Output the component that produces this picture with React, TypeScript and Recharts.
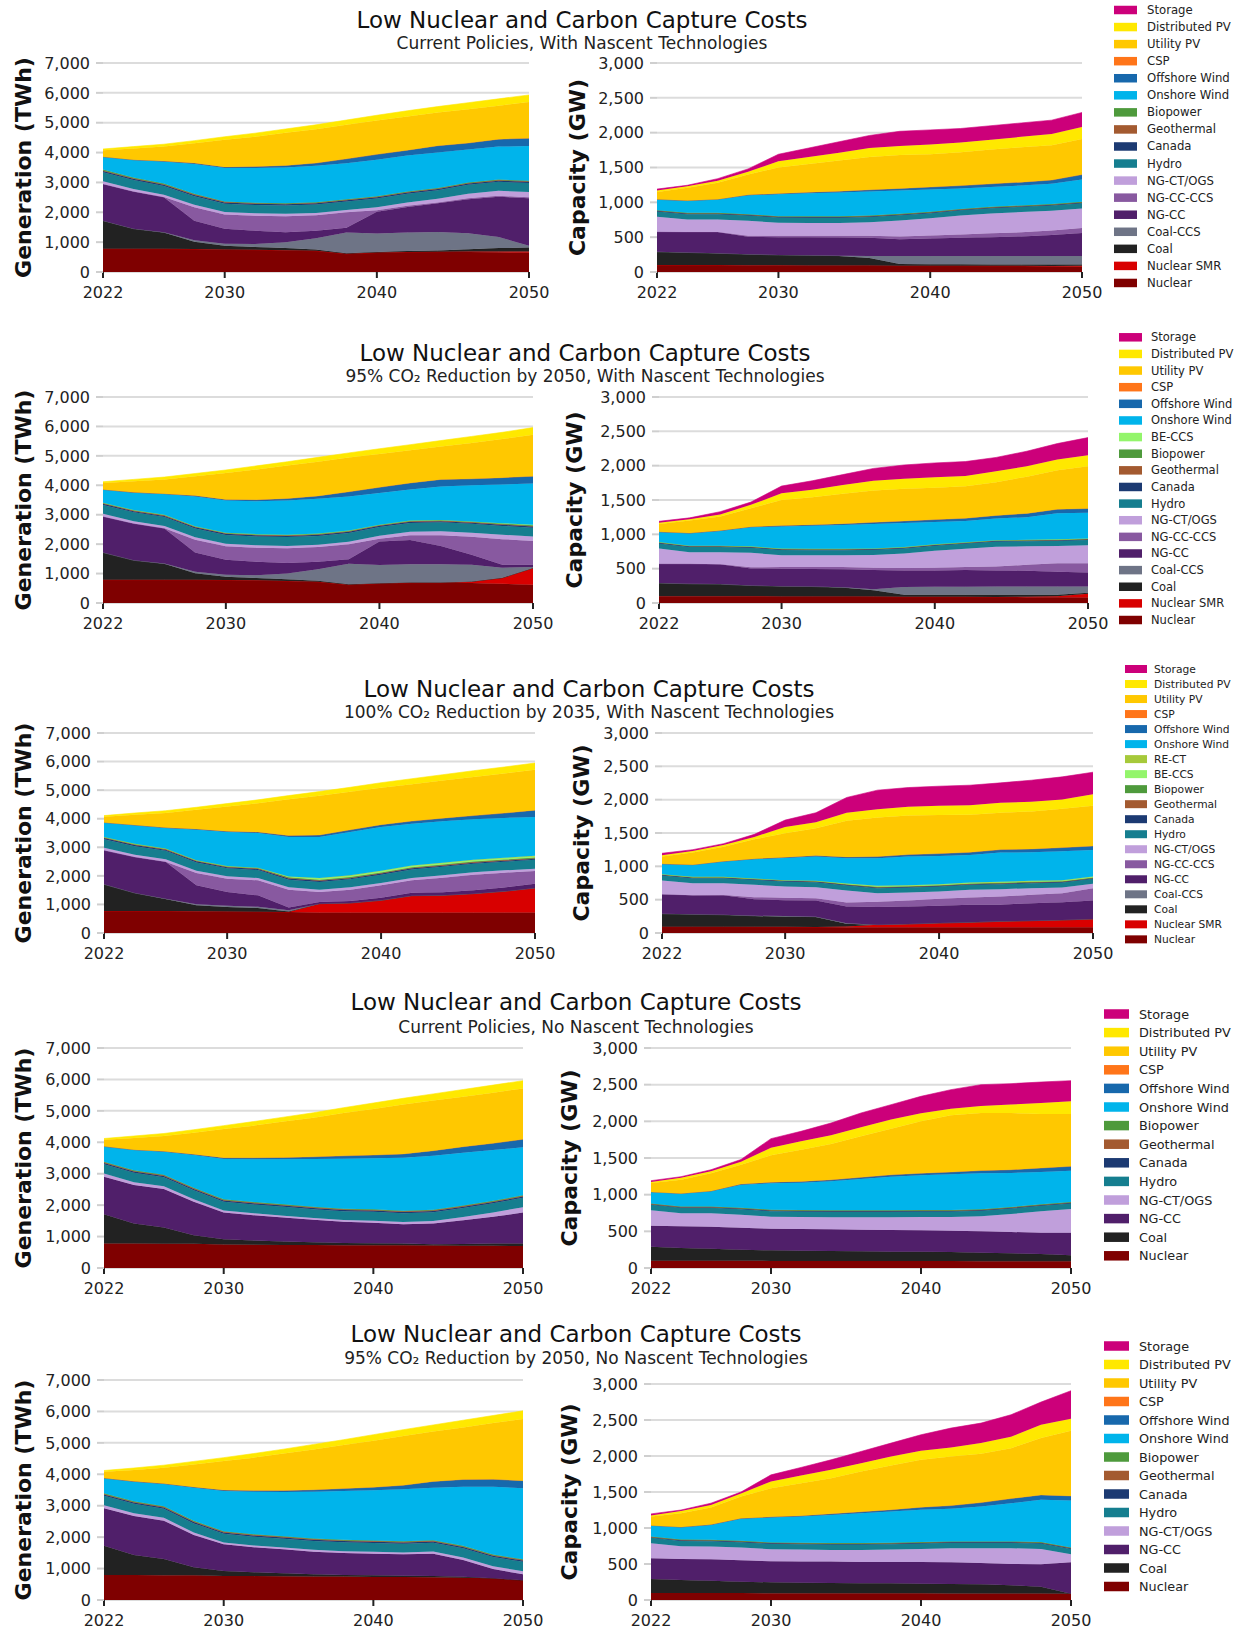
import React from 'react';
import { AreaChart, Area, XAxis, YAxis, CartesianGrid } from 'recharts';

const FONT = 'DejaVu Sans, Verdana, sans-serif';

const YEARS = [2022, 2024, 2026, 2028, 2030, 2032, 2034, 2036, 2038, 2040, 2042, 2044, 2046, 2048, 2050];
const X_TICKS = [2022, 2030, 2040, 2050];
const GEN_TICKS = [0, 1000, 2000, 3000, 4000, 5000, 6000, 7000];
const CAP_TICKS = [0, 500, 1000, 1500, 2000, 2500, 3000];

const TITLE = 'Low Nuclear and Carbon Capture Costs';
const SUBTITLES = [
  'Current Policies, With Nascent Technologies',
  '95% CO\u2082 Reduction by 2050, With Nascent Technologies',
  '100% CO\u2082 Reduction by 2035, With Nascent Technologies',
  'Current Policies, No Nascent Technologies',
  '95% CO\u2082 Reduction by 2050, No Nascent Technologies',
];

const COLORS: Record<string, string> = {
  'Storage': '#cc007a',
  'Distributed PV': '#ffe800',
  'Utility PV': '#ffc800',
  'CSP': '#ff7519',
  'Offshore Wind': '#1768ac',
  'Onshore Wind': '#00b4eb',
  'RE-CT': '#a6c93a',
  'BE-CCS': '#93f56b',
  'Biopower': '#4e9a3c',
  'Geothermal': '#a35a30',
  'Canada': '#1c3a72',
  'Hydro': '#157e8f',
  'NG-CT/OGS': '#c09fdb',
  'NG-CC-CCS': '#8859a0',
  'NG-CC': '#501f6a',
  'Coal-CCS': '#6e7486',
  'Coal': '#222222',
  'Nuclear SMR': '#d80000',
  'Nuclear': '#7f0000',
};

const STACK_ORDER = ['Nuclear', 'Nuclear SMR', 'Coal', 'Coal-CCS', 'NG-CC', 'NG-CC-CCS', 'NG-CT/OGS', 'Hydro', 'Canada',
  'Geothermal', 'Biopower', 'BE-CCS', 'RE-CT', 'Onshore Wind', 'Offshore Wind', 'CSP', 'Utility PV', 'Distributed PV', 'Storage'];

const LEGEND_1 = ['Storage', 'Distributed PV', 'Utility PV', 'CSP', 'Offshore Wind', 'Onshore Wind', 'Biopower', 'Geothermal',
  'Canada', 'Hydro', 'NG-CT/OGS', 'NG-CC-CCS', 'NG-CC', 'Coal-CCS', 'Coal', 'Nuclear SMR', 'Nuclear'];
const LEGEND_2 = ['Storage', 'Distributed PV', 'Utility PV', 'CSP', 'Offshore Wind', 'Onshore Wind', 'BE-CCS', 'Biopower', 'Geothermal',
  'Canada', 'Hydro', 'NG-CT/OGS', 'NG-CC-CCS', 'NG-CC', 'Coal-CCS', 'Coal', 'Nuclear SMR', 'Nuclear'];
const LEGEND_3 = ['Storage', 'Distributed PV', 'Utility PV', 'CSP', 'Offshore Wind', 'Onshore Wind', 'RE-CT', 'BE-CCS', 'Biopower', 'Geothermal',
  'Canada', 'Hydro', 'NG-CT/OGS', 'NG-CC-CCS', 'NG-CC', 'Coal-CCS', 'Coal', 'Nuclear SMR', 'Nuclear'];
const LEGEND_4 = ['Storage', 'Distributed PV', 'Utility PV', 'CSP', 'Offshore Wind', 'Onshore Wind', 'Biopower', 'Geothermal',
  'Canada', 'Hydro', 'NG-CT/OGS', 'NG-CC', 'Coal', 'Nuclear'];

const C15 = (v: number) => YEARS.map(() => v);

// ---------- Generation (TWh) ----------
const GEN_1: Record<string, number[]> = {
  'Nuclear': [780, 780, 780, 770, 755, 745, 730, 710, 610, 650, 670, 680, 670, 660, 650],
  'Nuclear SMR': [0, 0, 0, 0, 0, 0, 0, 0, 0, 0, 0, 0, 20, 30, 40],
  'Coal': [940, 670, 540, 240, 125, 90, 70, 40, 20, 20, 30, 40, 70, 110, 130],
  'Coal-CCS': [0, 0, 10, 50, 70, 100, 200, 380, 690, 620, 620, 620, 540, 370, 60],
  'NG-CC': [1230, 1250, 1170, 660, 500, 450, 330, 250, 160, 730, 860, 960, 1140, 1350, 1590],
  'NG-CC-CCS': [0, 0, 10, 450, 480, 500, 540, 520, 520, 50, 40, 30, 30, 30, 30],
  'NG-CT/OGS': [90, 80, 80, 80, 80, 80, 80, 80, 80, 100, 110, 120, 150, 170, 180],
  'Hydro': [300, 300, 290, 290, 280, 280, 280, 280, 280, 290, 290, 290, 300, 300, 300],
  'Canada': [40, 40, 40, 40, 40, 40, 40, 40, 40, 40, 40, 40, 40, 40, 40],
  'Geothermal': [20, 20, 20, 20, 20, 20, 20, 20, 20, 20, 20, 20, 20, 20, 20],
  'Biopower': [30, 25, 20, 20, 15, 15, 15, 15, 15, 15, 15, 15, 15, 15, 15],
  'Onshore Wind': [420, 585, 740, 1000, 1115, 1160, 1195, 1225, 1205, 1225, 1205, 1185, 1105, 1105, 1165],
  'Offshore Wind': [10, 10, 15, 30, 40, 50, 70, 90, 150, 180, 180, 230, 220, 250, 260],
  'CSP': [0, 0, 0, 0, 0, 0, 0, 0, 0, 0, 0, 0, 0, 0, 0],
  'Utility PV': [220, 380, 485, 660, 910, 1000, 1090, 1130, 1140, 1130, 1130, 1110, 1130, 1120, 1210],
  'Distributed PV': [40, 60, 80, 90, 100, 120, 130, 150, 160, 180, 190, 200, 220, 230, 240],
};

const GEN_2: Record<string, number[]> = {
  'Nuclear': [790, 790, 790, 790, 780, 770, 750, 720, 620, 660, 690, 690, 680, 656, 620],
  'Nuclear SMR': [0, 0, 0, 0, 0, 0, 0, 0, 0, 0, 0, 0, 40, 190, 560],
  'Coal': [925, 660, 540, 220, 110, 80, 60, 40, 20, 10, 10, 10, 10, 10, 10],
  'Coal-CCS': [0, 0, 10, 50, 70, 90, 190, 390, 690, 620, 620, 620, 570, 344, 30],
  'NG-CC': [1225, 1250, 1190, 660, 510, 460, 360, 250, 160, 800, 825, 620, 340, 100, 80],
  'NG-CC-CCS': [0, 0, 10, 430, 460, 480, 500, 500, 510, 92, 155, 360, 610, 870, 810],
  'NG-CT/OGS': [90, 80, 80, 80, 80, 80, 80, 80, 80, 100, 120, 140, 140, 150, 150],
  'Hydro': [300, 300, 300, 300, 300, 300, 300, 300, 300, 300, 300, 300, 300, 300, 300],
  'Canada': [40, 40, 40, 40, 40, 40, 40, 40, 40, 40, 40, 40, 40, 40, 40],
  'Geothermal': [20, 20, 20, 20, 20, 20, 20, 20, 20, 20, 20, 20, 20, 20, 20],
  'Biopower': [20, 20, 20, 20, 20, 20, 20, 20, 20, 20, 20, 20, 20, 20, 20],
  'BE-CCS': [0, 0, 0, 0, 0, 0, 0, 0, 0, 0, 0, 0, 0, 10, 20],
  'Onshore Wind': [440, 590, 700, 1010, 1090, 1120, 1160, 1180, 1160, 1080, 1060, 1140, 1230, 1320, 1400],
  'Offshore Wind': [10, 10, 15, 30, 40, 50, 70, 100, 160, 190, 220, 240, 220, 230, 250],
  'CSP': [0, 0, 0, 0, 0, 0, 0, 0, 0, 0, 0, 0, 0, 0, 0],
  'Utility PV': [220, 380, 485, 660, 900, 1030, 1120, 1160, 1160, 1130, 1110, 1120, 1220, 1310, 1410],
  'Distributed PV': [40, 60, 80, 90, 100, 120, 130, 150, 160, 180, 190, 200, 220, 230, 240],
};

const GEN_3: Record<string, number[]> = {
  'Nuclear': [770, 770, 770, 765, 750, 745, 735, 720, 715, 715, 715, 715, 715, 715, 715],
  'Nuclear SMR': [0, 0, 0, 0, 0, 0, 0, 307, 335, 428, 592, 603, 662, 744, 860],
  'Coal': [933, 630, 420, 203, 160, 130, 20, 0, 0, 0, 0, 0, 0, 0, 0],
  'Coal-CCS': [0, 0, 10, 40, 40, 40, 40, 0, 0, 0, 0, 0, 0, 0, 0],
  'NG-CC': [1190, 1260, 1297, 661, 485, 403, 100, 60, 70, 90, 100, 110, 120, 130, 150],
  'NG-CC-CCS': [0, 0, 0, 430, 467, 526, 622, 348, 397, 436, 437, 509, 545, 523, 445],
  'NG-CT/OGS': [90, 80, 80, 80, 80, 80, 80, 80, 80, 80, 80, 80, 80, 80, 80],
  'Hydro': [300, 300, 300, 290, 280, 280, 270, 270, 280, 290, 300, 300, 300, 300, 310],
  'Canada': [40, 40, 40, 40, 40, 40, 40, 40, 40, 40, 40, 40, 40, 40, 40],
  'Geothermal': [20, 20, 20, 20, 20, 20, 20, 20, 20, 20, 20, 20, 20, 20, 20],
  'Biopower': [20, 20, 20, 20, 20, 20, 20, 20, 20, 20, 20, 20, 20, 20, 20],
  'BE-CCS': [0, 0, 0, 0, 0, 0, 30, 50, 50, 50, 50, 50, 50, 50, 50],
  'RE-CT': [0, 0, 0, 0, 0, 0, 0, 10, 10, 10, 10, 10, 10, 10, 10],
  'Onshore Wind': [498, 650, 718, 1068, 1193, 1216, 1383, 1435, 1518, 1532, 1463, 1452, 1417, 1394, 1360],
  'Offshore Wind': [8, 10, 15, 25, 30, 35, 50, 70, 75, 80, 90, 110, 130, 170, 240],
  'CSP': [0, 0, 0, 0, 0, 0, 0, 0, 0, 0, 0, 0, 0, 0, 0],
  'Utility PV': [200, 360, 510, 668, 865, 1005, 1270, 1370, 1330, 1289, 1293, 1321, 1351, 1384, 1410],
  'Distributed PV': [40, 60, 80, 90, 100, 120, 130, 150, 160, 180, 190, 200, 220, 230, 240],
};

const GEN_4: Record<string, number[]> = {
  'Nuclear': [777, 777, 775, 770, 745, 740, 735, 730, 725, 723, 720, 715, 710, 705, 702],
  'Coal': [936, 638, 512, 273, 170, 132, 105, 89, 73, 64, 57, 40, 56, 72, 75],
  'NG-CC': [1191, 1223, 1224, 1063, 851, 809, 766, 713, 670, 649, 617, 660, 755, 851, 989],
  'NG-CT/OGS': [100, 90, 90, 80, 60, 60, 60, 60, 60, 70, 70, 80, 100, 140, 170],
  'Hydro': [300, 300, 290, 290, 280, 280, 280, 280, 280, 280, 280, 280, 290, 290, 300],
  'Canada': [40, 40, 40, 40, 40, 40, 40, 40, 40, 40, 40, 40, 40, 40, 40],
  'Geothermal': [20, 20, 20, 20, 20, 20, 20, 20, 20, 20, 20, 20, 20, 20, 20],
  'Biopower': [20, 20, 20, 20, 20, 20, 20, 20, 20, 20, 20, 20, 20, 20, 20],
  'Onshore Wind': [478, 647, 731, 1040, 1282, 1356, 1431, 1516, 1591, 1623, 1687, 1719, 1679, 1617, 1524],
  'Offshore Wind': [8, 10, 15, 25, 40, 50, 60, 70, 90, 105, 120, 160, 190, 215, 255],
  'CSP': [0, 0, 0, 0, 0, 0, 0, 0, 0, 0, 0, 0, 0, 0, 0],
  'Utility PV': [210, 375, 483, 679, 912, 1023, 1143, 1242, 1361, 1466, 1569, 1596, 1590, 1610, 1615],
  'Distributed PV': [40, 60, 80, 100, 110, 130, 140, 160, 170, 190, 200, 210, 230, 240, 250],
};

const GEN_5: Record<string, number[]> = {
  'Nuclear': [795, 795, 790, 785, 763, 760, 755, 750, 745, 732, 730, 725, 710, 689, 626],
  'Coal': [933, 637, 514, 254, 160, 120, 93, 67, 50, 53, 44, 38, 32, 0, 0],
  'NG-CC': [1188, 1240, 1220, 1029, 848, 796, 764, 721, 700, 689, 679, 711, 531, 297, 191],
  'NG-CT/OGS': [100, 90, 90, 80, 60, 60, 60, 60, 60, 60, 60, 70, 80, 90, 100],
  'Hydro': [300, 300, 290, 290, 280, 280, 280, 280, 280, 280, 280, 280, 290, 290, 300],
  'Canada': [40, 40, 40, 40, 40, 40, 40, 40, 40, 40, 40, 40, 40, 40, 40],
  'Geothermal': [20, 20, 20, 20, 20, 20, 20, 20, 20, 20, 20, 20, 20, 20, 20],
  'Biopower': [20, 20, 20, 20, 20, 20, 20, 20, 20, 20, 20, 20, 20, 20, 20],
  'Onshore Wind': [475, 623, 706, 1056, 1277, 1351, 1404, 1489, 1553, 1595, 1648, 1670, 1883, 2160, 2256],
  'Offshore Wind': [9, 10, 15, 25, 30, 40, 50, 60, 80, 100, 130, 200, 230, 235, 245],
  'CSP': [0, 0, 0, 0, 0, 0, 0, 0, 0, 0, 0, 0, 0, 0, 0],
  'Utility PV': [200, 365, 505, 711, 922, 1043, 1174, 1283, 1382, 1481, 1569, 1586, 1654, 1789, 1962],
  'Distributed PV': [40, 60, 80, 100, 110, 130, 140, 160, 170, 190, 200, 210, 230, 240, 260],
};

// ---------- Capacity (GW) ----------
const CAP_1: Record<string, number[]> = {
  'Nuclear': [100, 100, 100, 98, 96, 95, 95, 93, 90, 90, 90, 88, 85, 82, 80],
  'Nuclear SMR': [0, 0, 0, 0, 0, 0, 0, 0, 0, 0, 0, 0, 3, 5, 8],
  'Coal': [190, 180, 170, 157, 149, 145, 135, 107, 25, 20, 20, 20, 20, 20, 20],
  'Coal-CCS': [0, 0, 0, 0, 0, 0, 5, 30, 115, 120, 120, 122, 122, 123, 122],
  'NG-CC': [288, 295, 305, 251, 255, 260, 260, 260, 240, 250, 260, 270, 280, 300, 330],
  'NG-CC-CCS': [0, 0, 0, 15, 20, 20, 25, 30, 40, 45, 50, 55, 60, 65, 70],
  'NG-CT/OGS': [215, 180, 180, 214, 187, 185, 185, 195, 230, 245, 270, 285, 290, 285, 282],
  'Hydro': [75, 75, 75, 75, 75, 75, 75, 75, 75, 75, 75, 75, 75, 75, 75],
  'Canada': [10, 10, 10, 10, 10, 10, 10, 10, 10, 10, 10, 10, 10, 10, 10],
  'Geothermal': [4, 4, 4, 4, 4, 4, 4, 4, 4, 4, 4, 4, 4, 4, 4],
  'Biopower': [6, 6, 6, 6, 6, 6, 6, 6, 6, 6, 6, 6, 6, 6, 6],
  'Onshore Wind': [153, 172, 190, 270, 313, 330, 340, 345, 335, 320, 295, 285, 285, 290, 321],
  'Offshore Wind': [2, 3, 5, 8, 12, 15, 20, 25, 30, 35, 40, 45, 50, 55, 70],
  'CSP': [0, 0, 0, 0, 0, 0, 0, 0, 0, 0, 0, 0, 0, 0, 0],
  'Utility PV': [107, 185, 235, 292, 373, 405, 440, 470, 480, 470, 480, 495, 500, 500, 512],
  'Distributed PV': [20, 20, 30, 40, 90, 100, 110, 130, 130, 140, 140, 140, 150, 160, 170],
  'Storage': [20, 15, 30, 40, 100, 130, 160, 180, 210, 210, 200, 200, 200, 200, 210],
};

const CAP_2: Record<string, number[]> = {
  'Nuclear': [100, 100, 100, 98, 96, 95, 95, 93, 90, 90, 90, 88, 85, 82, 80],
  'Nuclear SMR': [0, 0, 0, 0, 0, 0, 0, 0, 0, 0, 0, 0, 5, 15, 55],
  'Coal': [190, 180, 175, 157, 149, 145, 130, 92, 30, 30, 30, 32, 30, 23, 15],
  'Coal-CCS': [0, 0, 0, 0, 0, 0, 3, 15, 112, 115, 118, 120, 120, 120, 92],
  'NG-CC': [281, 290, 291, 248, 255, 255, 262, 280, 243, 240, 242, 235, 230, 215, 203],
  'NG-CC-CCS': [0, 0, 0, 17, 25, 30, 35, 35, 35, 40, 45, 55, 86, 125, 135],
  'NG-CT/OGS': [222, 170, 174, 210, 172, 170, 170, 185, 210, 245, 265, 290, 269, 250, 262],
  'Hydro': [75, 75, 75, 75, 75, 75, 75, 75, 75, 75, 75, 75, 75, 75, 75],
  'Canada': [10, 10, 10, 10, 10, 10, 10, 10, 10, 10, 10, 10, 10, 10, 10],
  'Geothermal': [4, 4, 4, 4, 4, 4, 4, 4, 4, 4, 4, 4, 4, 4, 4],
  'Biopower': [6, 6, 6, 6, 6, 6, 6, 6, 6, 6, 6, 6, 6, 6, 6],
  'BE-CCS': [0, 0, 0, 0, 0, 0, 0, 0, 0, 0, 0, 0, 0, 2, 3],
  'Onshore Wind': [147, 181, 215, 278, 323, 335, 345, 355, 350, 325, 310, 315, 330, 379, 376],
  'Offshore Wind': [2, 3, 5, 8, 12, 15, 20, 25, 30, 35, 40, 45, 55, 60, 60],
  'CSP': [0, 0, 0, 0, 0, 0, 0, 0, 0, 0, 0, 0, 0, 0, 0],
  'Utility PV': [114, 181, 205, 269, 373, 400, 435, 465, 470, 465, 465, 485, 535, 569, 617],
  'Distributed PV': [19, 20, 30, 50, 97, 110, 130, 140, 145, 150, 150, 160, 150, 155, 160],
  'Storage': [20, 20, 40, 40, 106, 130, 150, 180, 200, 210, 210, 200, 220, 232, 256],
};

const CAP_3: Record<string, number[]> = {
  'Nuclear': [95, 95, 95, 93, 92, 90, 88, 85, 85, 85, 85, 85, 85, 85, 85],
  'Nuclear SMR': [0, 0, 0, 0, 0, 0, 10, 40, 50, 65, 75, 90, 100, 110, 125],
  'Coal': [194, 185, 179, 162, 157, 149, 42, 0, 0, 0, 0, 0, 0, 0, 0],
  'Coal-CCS': [0, 0, 0, 3, 5, 5, 5, 0, 0, 0, 0, 0, 0, 0, 0],
  'NG-CC': [294, 288, 294, 250, 239, 244, 254, 264, 264, 259, 264, 249, 263, 268, 278],
  'NG-CC-CCS': [0, 0, 2, 30, 35, 35, 59, 79, 89, 104, 109, 124, 125, 135, 185],
  'NG-CT/OGS': [204, 179, 177, 184, 170, 165, 180, 130, 120, 110, 115, 110, 100, 85, 64],
  'Hydro': [75, 75, 75, 75, 75, 75, 75, 75, 75, 75, 75, 75, 75, 75, 75],
  'Canada': [10, 10, 10, 10, 10, 10, 10, 10, 10, 10, 10, 10, 10, 10, 10],
  'Geothermal': [4, 4, 4, 4, 4, 4, 4, 4, 4, 4, 4, 4, 4, 4, 4],
  'Biopower': [6, 6, 6, 6, 6, 6, 6, 6, 6, 6, 6, 6, 6, 6, 6],
  'BE-CCS': [0, 0, 0, 0, 0, 0, 8, 10, 10, 10, 10, 10, 10, 10, 10],
  'RE-CT': [0, 0, 0, 0, 0, 0, 2, 5, 5, 5, 5, 5, 5, 5, 5],
  'Onshore Wind': [154, 179, 229, 289, 333, 363, 378, 413, 428, 423, 413, 438, 428, 433, 399],
  'Offshore Wind': [2, 3, 5, 8, 12, 15, 20, 25, 30, 35, 40, 45, 50, 55, 60],
  'CSP': [0, 0, 0, 0, 0, 0, 0, 0, 0, 0, 0, 0, 0, 0, 0],
  'Utility PV': [108, 182, 219, 291, 357, 409, 543, 588, 588, 578, 563, 553, 563, 583, 602],
  'Distributed PV': [19, 24, 25, 35, 95, 90, 120, 124, 129, 139, 144, 149, 144, 139, 175],
  'Storage': [31, 20, 20, 40, 104, 144, 229, 285, 289, 294, 299, 299, 324, 339, 329],
};

const CAP_4: Record<string, number[]> = {
  'Nuclear': [100, 100, 100, 98, 97, 96, 95, 95, 95, 95, 94, 93, 92, 91, 91],
  'Coal': [191, 173, 164, 152, 144, 140, 137, 132, 128, 128, 124, 116, 108, 100, 82],
  'NG-CC': [286, 295, 300, 300, 295, 296, 295, 296, 295, 291, 291, 291, 291, 291, 309],
  'NG-CT/OGS': [209, 177, 181, 177, 164, 163, 164, 168, 173, 181, 186, 205, 245, 291, 323],
  'Hydro': [75, 75, 75, 75, 75, 75, 75, 75, 75, 75, 75, 75, 75, 75, 75],
  'Canada': [10, 10, 10, 10, 10, 10, 10, 10, 10, 10, 10, 10, 10, 10, 10],
  'Geothermal': [4, 4, 4, 4, 4, 4, 4, 4, 4, 4, 4, 4, 4, 4, 4],
  'Biopower': [6, 6, 6, 6, 6, 6, 6, 6, 6, 6, 6, 6, 6, 6, 6],
  'Onshore Wind': [155, 174, 205, 314, 360, 374, 396, 428, 459, 474, 487, 491, 464, 441, 427],
  'Offshore Wind': [2, 3, 5, 8, 15, 17, 20, 22, 25, 28, 32, 38, 45, 55, 60],
  'CSP': [0, 0, 0, 0, 0, 0, 0, 0, 0, 0, 0, 0, 0, 0, 0],
  'Utility PV': [121, 188, 241, 265, 366, 433, 489, 559, 630, 708, 773, 785, 774, 736, 713],
  'Distributed PV': [15, 25, 30, 40, 105, 115, 120, 125, 125, 110, 90, 95, 115, 150, 173],
  'Storage': [17, 15, 19, 31, 123, 135, 166, 194, 202, 231, 260, 291, 285, 286, 282],
};

const CAP_5: Record<string, number[]> = {
  'Nuclear': [97, 97, 97, 96, 95, 95, 94, 94, 93, 93, 92, 91, 90, 89, 88],
  'Coal': [195, 181, 172, 159, 151, 146, 142, 138, 139, 134, 131, 127, 114, 96, 0],
  'NG-CC': [288, 292, 297, 297, 292, 292, 297, 297, 297, 302, 301, 297, 297, 311, 436],
  'NG-CT/OGS': [208, 176, 176, 176, 167, 167, 162, 166, 171, 180, 195, 204, 218, 213, 111],
  'Hydro': [75, 75, 75, 75, 75, 75, 75, 75, 75, 75, 75, 75, 75, 75, 75],
  'Canada': [10, 10, 10, 10, 10, 10, 10, 10, 10, 10, 10, 10, 10, 10, 10],
  'Geothermal': [4, 4, 4, 4, 4, 4, 4, 4, 4, 4, 4, 4, 4, 4, 4],
  'Biopower': [6, 6, 6, 6, 6, 6, 6, 6, 6, 6, 6, 6, 6, 6, 6],
  'Onshore Wind': [151, 170, 206, 304, 345, 364, 392, 415, 434, 448, 452, 484, 530, 587, 652],
  'Offshore Wind': [2, 3, 5, 8, 10, 12, 15, 20, 25, 37, 45, 55, 65, 69, 64],
  'CSP': [0, 0, 0, 0, 0, 0, 0, 0, 0, 0, 0, 0, 0, 0, 0],
  'Utility PV': [123, 191, 236, 302, 398, 452, 495, 560, 614, 658, 682, 678, 700, 789, 904],
  'Distributed PV': [16, 30, 36, 43, 93, 106, 116, 116, 125, 125, 126, 148, 158, 185, 167],
  'Storage': [21, 15, 25, 20, 92, 112, 139, 162, 186, 223, 269, 278, 306, 315, 390],
};

void C15;

// ---------- layout ----------
const YW = 80; // y-axis width
const MT = 12; // top margin
const MR = 30; // right margin
const XH = 40; // x-axis height

type Rect = { x0: number; x1: number; y0: number; y1: number };

interface RowLayout {
  gen: Record<string, number[]>;
  cap: Record<string, number[]>;
  genRect: Rect;
  capRect: Rect;
  legend: string[];
  title: { x: number; y: number; sy: number };
  capLabelX: number;
  leg: { sx: number; w: number; h: number; tx: number; y0: number; dy: number; fs: number };
}

const ROWS: RowLayout[] = [
  {
    gen: GEN_1, cap: CAP_1,
    genRect: { x0: 103, x1: 529, y0: 63, y1: 272 },
    capRect: { x0: 657, x1: 1082, y0: 63, y1: 272 },
    legend: LEGEND_1, title: { x: 582, y: 20, sy: 43 }, capLabelX: 577,
    leg: { sx: 1114, w: 23, h: 8.5, tx: 1147, y0: 10, dy: 17.06, fs: 11.7 },
  },
  {
    gen: GEN_2, cap: CAP_2,
    genRect: { x0: 103, x1: 533, y0: 397, y1: 603 },
    capRect: { x0: 659, x1: 1088, y0: 397, y1: 603 },
    legend: LEGEND_2, title: { x: 585, y: 353, sy: 376 }, capLabelX: 574,
    leg: { sx: 1119, w: 23, h: 8.5, tx: 1151, y0: 337.3, dy: 16.63, fs: 11.5 },
  },
  {
    gen: GEN_3, cap: CAP_3,
    genRect: { x0: 104, x1: 535, y0: 733, y1: 933 },
    capRect: { x0: 662, x1: 1093, y0: 733, y1: 933 },
    legend: LEGEND_3, title: { x: 589, y: 689, sy: 712 }, capLabelX: 581,
    leg: { sx: 1125, w: 22, h: 8, tx: 1154, y0: 669, dy: 15.02, fs: 10.7 },
  },
  {
    gen: GEN_4, cap: CAP_4,
    genRect: { x0: 104, x1: 523, y0: 1048, y1: 1268 },
    capRect: { x0: 651, x1: 1071, y0: 1048, y1: 1268 },
    legend: LEGEND_4, title: { x: 576, y: 1002, sy: 1027 }, capLabelX: 569,
    leg: { sx: 1104, w: 25, h: 9.5, tx: 1139, y0: 1014, dy: 18.6, fs: 12.8 },
  },
  {
    gen: GEN_5, cap: CAP_5,
    genRect: { x0: 104, x1: 523, y0: 1380, y1: 1600 },
    capRect: { x0: 651, x1: 1071, y0: 1384, y1: 1600 },
    legend: LEGEND_4, title: { x: 576, y: 1334, sy: 1358 }, capLabelX: 569,
    leg: { sx: 1104, w: 25, h: 9.5, tx: 1139, y0: 1346, dy: 18.5, fs: 12.8 },
  },
];

const tickStyle = { fill: '#222', fontSize: 16, fontFamily: FONT };

function Panel({ src, rect, max, ticks }: { src: Record<string, number[]>; rect: Rect; max: number; ticks: number[] }) {
  const data = YEARS.map((year, i) => {
    const row: Record<string, number> = { year };
    Object.keys(src).forEach((k) => { row[k] = src[k][i]; });
    return row;
  });
  const keys = STACK_ORDER.filter((k) => k in src);
  const W = rect.x1 - rect.x0 + YW + MR;
  const H = rect.y1 - rect.y0 + MT + XH;
  return (
    <div style={{ position: 'absolute', left: rect.x0 - YW, top: rect.y0 - MT, width: W, height: H }}>
      <AreaChart width={W} height={H} data={data} margin={{ top: MT, right: MR, left: 0, bottom: 0 }}>
        <CartesianGrid vertical={false} stroke="#dcdcdc" strokeWidth={2} />
        <XAxis
          dataKey="year" type="number" domain={[2022, 2050]} ticks={X_TICKS} interval={0}
          axisLine={false} tickLine={{ stroke: '#222', strokeWidth: 2 }} tickSize={6} tickMargin={9}
          height={XH} tick={tickStyle}
        />
        <YAxis
          type="number" domain={[0, max]} ticks={ticks} interval={0} width={YW}
          axisLine={false} tickLine={{ stroke: '#cfcfcf', strokeWidth: 2 }} tickSize={7} tickMargin={6}
          tick={tickStyle} tickFormatter={(v: number) => v.toLocaleString('en-US')}
        />
        {keys.map((k) => (
          <Area
            key={k} type="linear" dataKey={k} stackId="s" stroke={COLORS[k]} strokeWidth={0.6}
            fill={COLORS[k]} fillOpacity={1} isAnimationActive={false} dot={false} activeDot={false}
          />
        ))}
      </AreaChart>
    </div>
  );
}

function Overlay() {
  return (
    <svg width={1241} height={1629} style={{ position: 'absolute', left: 0, top: 0, pointerEvents: 'none' }}>
      {ROWS.map((r, ri) => {
        const gcy = (r.genRect.y0 + r.genRect.y1) / 2;
        const ccy = (r.capRect.y0 + r.capRect.y1) / 2;
        return (
          <g key={ri} fontFamily={FONT}>
            <text x={r.title.x} y={r.title.y} textAnchor="middle" dominantBaseline="central" fontSize={23} fill="#111">{TITLE}</text>
            <text x={r.title.x} y={r.title.sy} textAnchor="middle" dominantBaseline="central" fontSize={17} fill="#222">{SUBTITLES[ri]}</text>
            <text x={23} y={gcy} transform={`rotate(-90, 23, ${gcy})`} textAnchor="middle" dominantBaseline="central" fontSize={22} fontWeight="bold" fill="#111">Generation (TWh)</text>
            <text x={r.capLabelX} y={ccy} transform={`rotate(-90, ${r.capLabelX}, ${ccy})`} textAnchor="middle" dominantBaseline="central" fontSize={22} fontWeight="bold" fill="#111">Capacity (GW)</text>
            {r.legend.map((name, li) => {
              const cy = r.leg.y0 + li * r.leg.dy;
              return (
                <g key={name}>
                  <rect x={r.leg.sx} y={cy - r.leg.h / 2} width={r.leg.w} height={r.leg.h} fill={COLORS[name]} />
                  <text x={r.leg.tx} y={cy} dominantBaseline="central" fontSize={r.leg.fs} fill="#222">{name}</text>
                </g>
              );
            })}
          </g>
        );
      })}
    </svg>
  );
}

export default function App() {
  return (
    <div style={{ position: 'absolute', left: 0, top: 0, width: 1241, height: 1629, overflow: 'hidden', background: '#fff', fontFamily: FONT }}>
      {ROWS.map((r, i) => (
        <React.Fragment key={i}>
          <Panel src={r.gen} rect={r.genRect} max={7000} ticks={GEN_TICKS} />
          <Panel src={r.cap} rect={r.capRect} max={3000} ticks={CAP_TICKS} />
        </React.Fragment>
      ))}
      <Overlay />
    </div>
  );
}
